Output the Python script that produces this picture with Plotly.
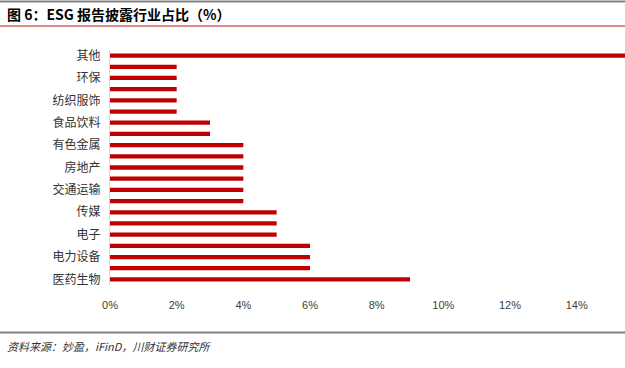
import plotly.graph_objects as go

# Data (top to bottom as shown in the chart; "" = unlabeled bar)
categories = ["其他", "", "环保", "", "纺织服饰", "", "食品饮料", "", "有色金属", "",
              "房地产", "", "交通运输", "", "传媒", "", "电子", "", "电力设备", "", "医药生物"]
values = [16, 2, 2, 2, 2, 2, 3, 3, 4, 4, 4, 4, 4, 4, 5, 5, 5, 6, 6, 6, 9]
x_tickvals = [0, 2, 4, 6, 8, 10, 12, 14]
x_ticktext = ["0%", "2%", "4%", "6%", "8%", "10%", "12%", "14%"]

title_text = "图 6：ESG 报告披露行业占比（%）"
source_text = "资料来源：妙盈，iFinD，川财证券研究所"

n = len(categories)
ypos = [n - 1 - i for i in range(n)]  # top item gets highest position
tickvals_y = [p for p, c in zip(ypos, categories) if c]
ticktext_y = [c for c in categories if c]

fig = go.Figure(go.Bar(
    x=values, y=ypos, orientation="h",
    marker=dict(color="#C00000", line=dict(width=0)),
    width=0.38, hoverinfo="skip",
))

fig.update_layout(
    width=625, height=368,
    margin=dict(l=110, r=0, t=50, b=83),
    paper_bgcolor="white", plot_bgcolor="white",
    showlegend=False,
    font=dict(family="Noto Sans CJK SC, sans-serif", color="#333333"),
    xaxis=dict(
        range=[0, 15.45], tickvals=x_tickvals, ticktext=x_ticktext,
        showgrid=False, zeroline=False, showline=False,
        tickfont=dict(family="Liberation Sans, Arial, sans-serif", size=11, color="#404040"),
        ticklabelstandoff=12, fixedrange=True,
    ),
    yaxis=dict(
        range=[-0.5, n - 0.5], tickvals=tickvals_y, ticktext=ticktext_y,
        showgrid=False, zeroline=False, showline=True, linecolor="#D9D9D9", linewidth=1,
        tickfont=dict(family="Noto Sans CJK SC, sans-serif", size=12, color="#333333"),
        ticklabelstandoff=6, fixedrange=True,
    ),
    shapes=[
        dict(type="line", xref="paper", yref="paper", x0=-0.3, x1=1.0,
             y0=1 + 48.5/234.5, y1=1 + 48.5/234.5, line=dict(color="#808080", width=2)),
        dict(type="line", xref="paper", yref="paper", x0=-0.3, x1=1.0,
             y0=1 + 24/234.5, y1=1 + 24/234.5, line=dict(color="#D98A8A", width=2)),
        dict(type="line", xref="paper", yref="paper", x0=-0.3, x1=1.0,
             y0=-(332 - 284.5)/234.5, y1=-(332 - 284.5)/234.5, line=dict(color="#808080", width=2)),
    ],
    annotations=[
        dict(text="<b>" + title_text + "</b>", xref="paper", yref="paper",
             x=-(110 - 5)/515, y=1 + (50 - 14)/234.5, xanchor="left", yanchor="middle",
             showarrow=False, font=dict(size=14, color="#000000",
                                        family="Noto Sans CJK SC, sans-serif")),
        dict(text="<i>" + source_text + "</i>", xref="paper", yref="paper",
             x=-(110 - 5)/515, y=-(345 - 284.5)/234.5, xanchor="left", yanchor="middle",
             showarrow=False, font=dict(size=11, color="#333333",
                                        family="Noto Sans CJK SC, sans-serif")),
    ],
)

fig.write_html("out.html", config={"displayModeBar": False},
               post_script="document.body.style.margin='0px';document.body.style.overflow='hidden';")
